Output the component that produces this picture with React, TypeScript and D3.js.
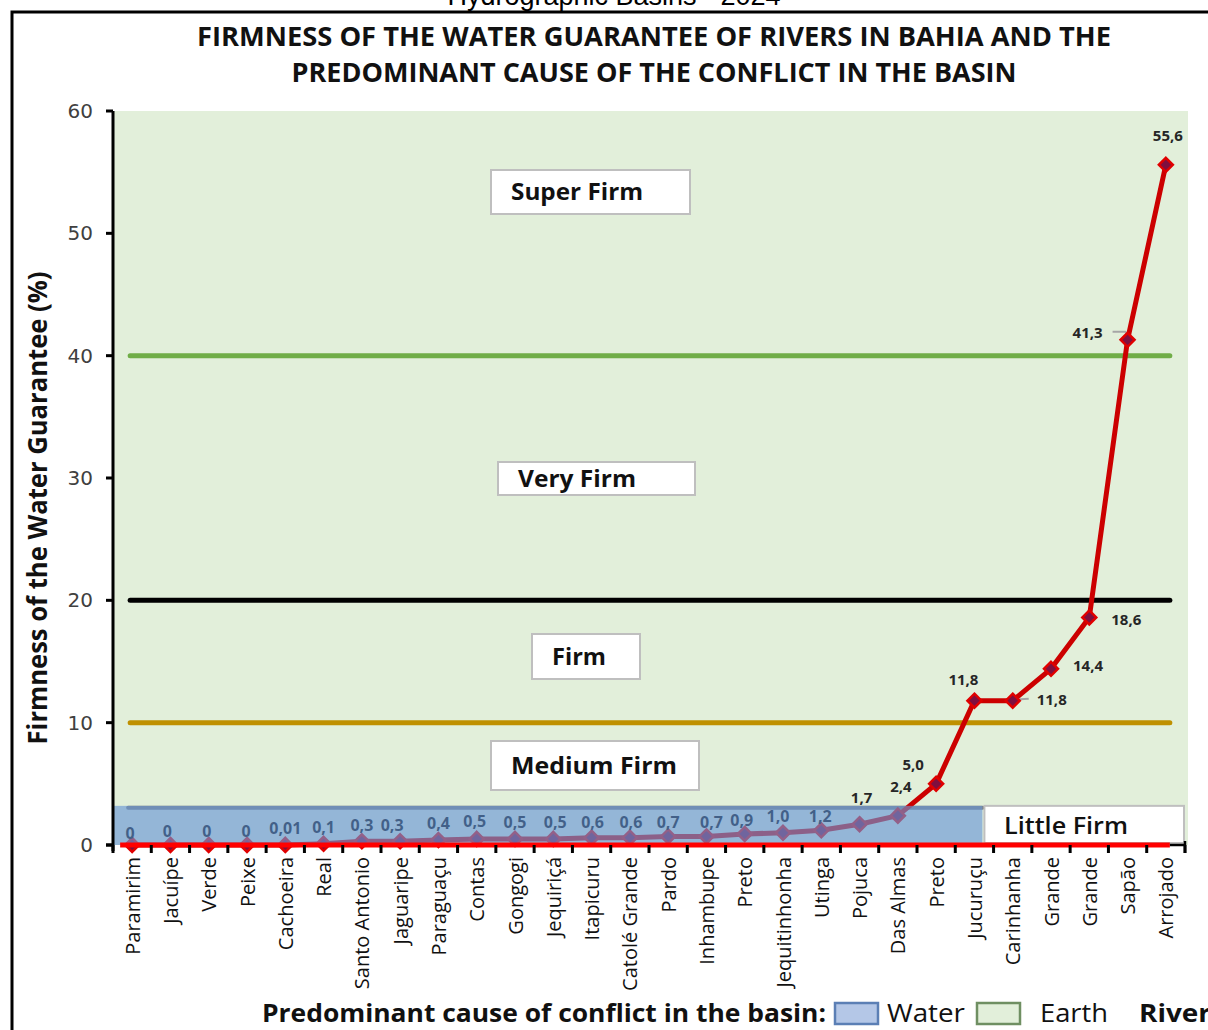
import React from 'react';
import * as d3 from 'd3';

const rivers = [
  'Paramirim', 'Jacuípe', 'Verde', 'Peixe', 'Cachoeira', 'Real', 'Santo Antonio', 'Jaguaripe',
  'Paraguaçu', 'Contas', 'Gongogi', 'Jequiriçá', 'Itapicuru', 'Catolé Grande', 'Pardo', 'Inhambupe',
  'Preto', 'Jequitinhonha', 'Utinga', 'Pojuca', 'Das Almas', 'Preto', 'Jucuruçu', 'Carinhanha',
  'Grande', 'Grande', 'Sapão', 'Arrojado',
];
const firmness = [
  0, 0, 0, 0, 0.01, 0.1, 0.3, 0.3, 0.4, 0.5, 0.5, 0.5, 0.6, 0.6, 0.7, 0.7, 0.9, 1.0, 1.2, 1.7, 2.4,
  5.0, 11.8, 11.8, 14.4, 18.6, 41.3, 55.6,
];
const yTicks = [0, 10, 20, 30, 40, 50, 60];
const thresholdValues = [40, 20, 10];
const zoneNames = ['Super Firm', 'Very Firm', 'Firm', 'Medium Firm'];
const littleFirmTop = 3.2;

// layout / style (not data)
const thresholdColors = ['#70ad47', '#000000', '#bf9000'];
const labelOffsets: [number, number][] = [
  [-2, -12], [-3, -14], [-2, -14], [-1, -14], [0, -17], [0, -17], [0, -16], [-8, -16],
  [0, -17], [-2, -18], [0, -17], [2, -17], [1, -16], [1, -16], [0, -14], [5, -14],
  [-3, -14], [-5, -17], [-1, -14], [2, -27], [3, -30], [-23, -20], [-11, -22], [39, -2],
  [37, -4], [37, 2], [-40, -8], [2, -30],
];
const zoneBoxes = [
  { x: 491, y: 170, w: 199, h: 44 },
  { x: 498, y: 462, w: 197, h: 33 },
  { x: 532, y: 634, w: 108, h: 45 },
  { x: 491, y: 741, w: 208, h: 49 },
];
const zoneTextLen = [132, 118, 54, 166];

const fmt = (v: number) =>
  v === 0 ? '0' : v < 1 ? String(v).replace('.', ',') : v.toFixed(1).replace('.', ',');

export default function App() {
  const W = 1208;
  const H = 1030;
  const left = 113;
  const right = 1185;
  const top = 111;
  const bottom = 845;

  const x = d3
    .scaleBand<number>()
    .domain(rivers.map((_, i) => i))
    .range([left, right]);
  const bw = x.bandwidth();
  const cx = (i: number) => (x(i) as number) + bw / 2;
  const y = d3.scaleLinear().domain([0, 60]).range([bottom, top]);

  const line = d3
    .line<number>()
    .x((_, i) => cx(i))
    .y((d) => y(d));

  const lineX0 = cx(0) - 2;
  const lineX1 = cx(rivers.length - 1) + 4;
  const blueRight = cx(22) + 8;

  const diamond = 'M0,-7L7,0L0,7L-7,0Z';
  const font = "'Open Sans', 'Noto Sans', sans-serif";

  return (
    <svg
      width={W}
      height={H}
      style={{ position: 'absolute', left: 0, top: 0, background: '#fff' }}
      fontFamily={font}
    >
      <rect x={0} y={0} width={W} height={H} fill="#ffffff" />
      {/* cut-off outer title (as in the reference) */}
      <text x={614} y={5} textAnchor="middle" fontFamily="'Liberation Sans', Arial, sans-serif" fontSize={27} fill="#000">
        Hydrographic Basins - 2024
      </text>
      {/* frame */}
      <path d={`M12,${H} L12,12 L${W},12`} fill="none" stroke="#000" strokeWidth={3} />

      {/* title */}
      <text x={654} y={46} textAnchor="middle" fontWeight={700} fontSize={26} textLength={914} lengthAdjust="spacingAndGlyphs" fill="#111">
        FIRMNESS OF THE WATER GUARANTEE OF RIVERS IN BAHIA AND THE
      </text>
      <text x={654} y={82} textAnchor="middle" fontWeight={700} fontSize={26} textLength={725} lengthAdjust="spacingAndGlyphs" fill="#111">
        PREDOMINANT CAUSE OF THE CONFLICT IN THE BASIN
      </text>

      {/* plot background */}
      <rect x={left} y={top} width={1188 - left} height={bottom - top} fill="#e2efda" />

      {/* threshold lines */}
      {thresholdValues.map((v, i) => (
        <line key={v} x1={lineX0} x2={lineX1} y1={y(v)} y2={y(v)} stroke={thresholdColors[i]} strokeWidth={5} strokeLinecap="round" />
      ))}

      {/* gray line at little-firm limit */}
      <line x1={cx(0) - 4} x2={blueRight} y1={y(littleFirmTop) + 2} y2={y(littleFirmTop) + 2} stroke="#7f7f7f" strokeWidth={4} strokeLinecap="round" />

      {/* series */}
      <path d={line(firmness) || ''} fill="none" stroke="#cc0000" strokeWidth={5} strokeLinejoin="round" />
      {/* leader lines */}
      <path d={`M${cx(23) + 2},${y(firmness[23]) - 1} L${cx(23) + 16},${y(firmness[23]) - 2}`} stroke="#a6a6a6" strokeWidth={2} fill="none" />
      <path d={`M${cx(26) - 15},${y(firmness[26]) - 8} L${cx(26) - 2},${y(firmness[26]) - 8} L${cx(26)},${y(firmness[26]) - 2}`} stroke="#a6a6a6" strokeWidth={2} fill="none" />
      {firmness.map((v, i) => (
        <path key={i} d={diamond} transform={`translate(${cx(i)},${y(v)})`} fill="#7f0f3f" stroke="#e00000" strokeWidth={2.5} />
      ))}
      {firmness.map((v, i) => (
        <text
          key={'l' + i}
          x={cx(i) + labelOffsets[i][0]}
          y={y(v) + labelOffsets[i][1]}
          textAnchor="middle"
          dominantBaseline="central"
          fontSize={i < 19 ? 16 : 15}
          fontWeight={700}
          fill={i < 19 ? '#000' : '#262626'}
        >
          {fmt(v)}
        </text>
      ))}

      {/* water conflict overlay */}
      <rect x={left} y={y(littleFirmTop)} width={blueRight - left} height={bottom - y(littleFirmTop)} fill="rgb(104,150,212)" fillOpacity={0.64} />

      {/* Little Firm box */}
      <rect x={blueRight + 2} y={y(littleFirmTop)} width={1184 - blueRight - 2} height={843 - y(littleFirmTop)} fill="#fff" stroke="#bfbfbf" strokeWidth={2} />
      <text x={1066} y={834} textAnchor="middle" fontSize={24} fontWeight={600} textLength={124} lengthAdjust="spacingAndGlyphs" fill="#111">
        Little Firm
      </text>

      {/* zone boxes */}
      {zoneNames.map((n, i) => {
        const b = zoneBoxes[i];
        return (
          <g key={n}>
            <rect x={b.x} y={b.y} width={b.w} height={b.h} fill="#fff" stroke="#bfbfbf" strokeWidth={2} />
            <text x={b.x + 20} y={b.y + b.h / 2 + 8} fontSize={24} fontWeight={700} textLength={zoneTextLen[i]} lengthAdjust="spacingAndGlyphs" fill="#111">
              {n}
            </text>
          </g>
        );
      })}

      {/* red baseline */}
      <line x1={cx(0) - 12} x2={lineX1} y1={bottom} y2={bottom} stroke="#ff0000" strokeWidth={5} />

      {/* axes */}
      <line x1={left} x2={left} y1={top} y2={bottom + 6} stroke="#000" strokeWidth={3} />
      <line x1={lineX1} x2={right} y1={bottom} y2={bottom} stroke="#000" strokeWidth={2.5} />
      <line x1={left - 7} x2={left} y1={bottom} y2={bottom} stroke="#000" strokeWidth={3} />
      {yTicks.map((t) => (
        <g key={t}>
          <line x1={left - 7} x2={left} y1={y(t)} y2={y(t)} stroke="#000" strokeWidth={3} />
          <text x={93} y={y(t)} textAnchor="end" dominantBaseline="central" fontFamily="'DejaVu Sans', Verdana, sans-serif" fontSize={20} fill="#404040">
            {t}
          </text>
        </g>
      ))}
      {d3.range(rivers.length + 1).map((i) => (
        <line key={'t' + i} x1={left + i * bw} x2={left + i * bw} y1={bottom} y2={bottom + 8} stroke="#000" strokeWidth={3} />
      ))}
      <line x1={right} x2={right} y1={bottom - 4} y2={bottom + 8} stroke="#000" strokeWidth={2.5} />

      {/* category labels */}
      {rivers.map((r, i) => (
        <text
          key={'c' + i}
          transform={`translate(${cx(i)},857) rotate(-90)`}
          textAnchor="end"
          dominantBaseline="central"
          fontSize={20}
          fill="#111"
        >
          {r}
        </text>
      ))}

      {/* y axis title */}
      <text
        transform="translate(37,508) rotate(-90)"
        textAnchor="middle"
        dominantBaseline="central"
        fontSize={26}
        fontWeight={700}
        textLength={473}
        lengthAdjust="spacingAndGlyphs"
        fill="#111"
      >
        Firmness of the Water Guarantee (%)
      </text>

      {/* legend */}
      <text x={262} y={1022} fontSize={25} fontWeight={700} textLength={564} lengthAdjust="spacingAndGlyphs" fill="#111">
        Predominant cause of conflict in the basin:
      </text>
      <rect x={835} y={1003} width={43} height={21} fill="#b4c7e7" stroke="#5b7fb5" strokeWidth={2.5} />
      <text x={887} y={1022} fontSize={25} textLength={78} lengthAdjust="spacingAndGlyphs" fill="#111">Water</text>
      <rect x={977} y={1003} width={43} height={21} fill="#e2efda" stroke="#6f8f62" strokeWidth={2.5} />
      <text x={1040} y={1022} fontSize={25} textLength={68} lengthAdjust="spacingAndGlyphs" fill="#111">Earth</text>
      <text x={1139} y={1022} fontSize={25} fontWeight={700} textLength={72} lengthAdjust="spacingAndGlyphs" fill="#111">River</text>
    </svg>
  );
}
